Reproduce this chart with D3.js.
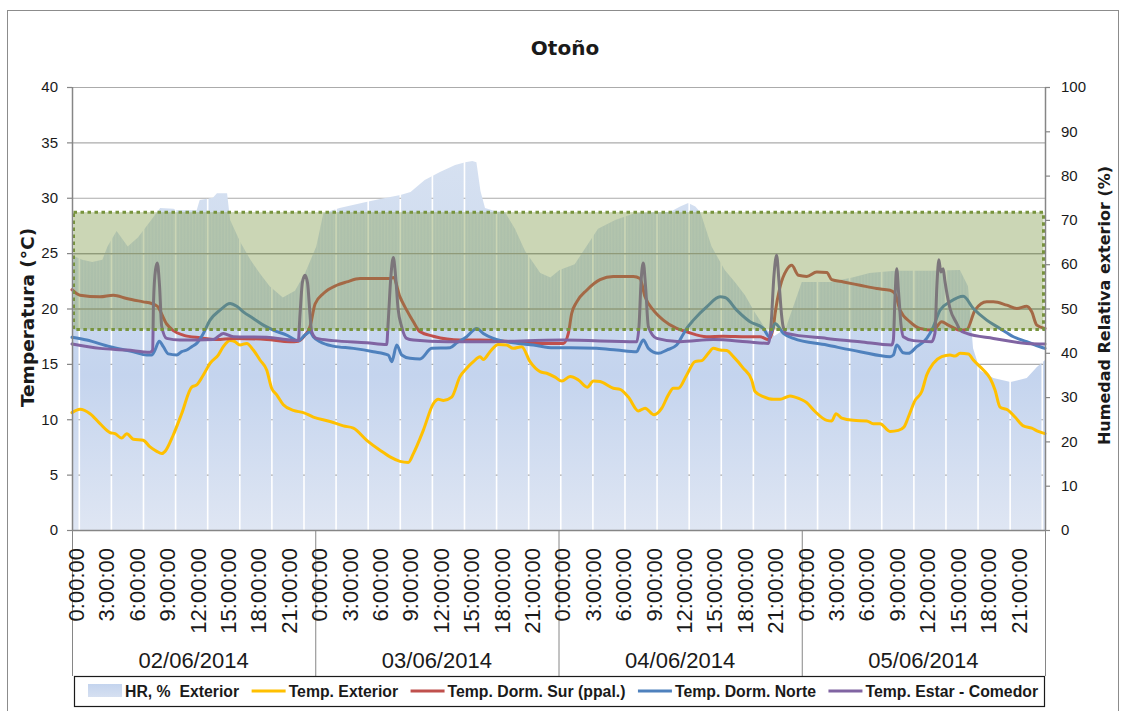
<!DOCTYPE html>
<html>
<head>
<meta charset="utf-8">
<script src="https://cdn.jsdelivr.net/npm/d3@7"></script>
<style>
  body { margin: 0; background: #fff; }
  svg text { font-family: "Liberation Sans", Arial, sans-serif; fill: #1a1a1a; }
  .pre { white-space: pre; }
</style>
</head>
<body>
<svg id="chart" width="1126" height="711"></svg>
<script>
// ---- data ---------------------------------------------------------------
const chartTitle = "Otoño";
const days = ["02/06/2014", "03/06/2014", "04/06/2014", "05/06/2014"];
const hourTicks = [0, 3, 6, 9, 12, 15, 18, 21];
const tempTicks = [0, 5, 10, 15, 20, 25, 30, 35, 40];
const hrTicks = [0, 10, 20, 30, 40, 50, 60, 70, 80, 90, 100];
const comfortBand = [18.1, 28.7];   // °C, comfort zone

// [hours since 02/06 0:00, value]
const hrExterior = [[0,62],[1,61],[2,60.5],[3,61],[3.5,64],[4.4,67.5],[5.5,64],[6.5,66],[7.5,69],[8.7,72.7],[10,72.5],[10.4,72.2],[12.3,72.2],[12.6,74.5],[13.9,75],[14.3,76],[15.3,76],[15.6,70],[16.6,65],[17.6,61],[18.5,58],[19.5,55],[20.8,52.5],[22,54],[23,58],[24.1,64],[24.8,71.5],[26.4,72.7],[28.9,74],[30.4,74.7],[32.4,75.6],[33.4,76.3],[34.8,79],[36.3,80.8],[37.8,82.4],[38.8,83],[39.5,83.3],[39.9,83],[40.3,76.5],[40.75,72.7],[41.7,72],[42.7,71.8],[43.7,68],[44.7,63],[46.2,58],[47.2,57],[48.1,58.7],[49.6,60],[51.9,68],[53.6,70],[55.5,71.5],[57.5,71.7],[59,71.8],[60,73],[60.8,73.8],[61.5,73],[62,71.7],[63.1,64],[64.4,58.7],[65.4,56],[66.4,53],[67.4,49],[68.4,45.5],[69.3,43.8],[70.4,45.5],[71.4,52],[72,56],[74.8,56],[77,57],[78.7,58],[81.2,58.5],[84.7,58.5],[87.6,58.7],[88.4,55],[88.9,41],[89.6,36],[90.9,34.3],[92.6,33.4],[94.2,34.3],[95.2,36.8],[96,38.4]];

const tempExterior = [[0,10.6],[0.79,10.9],[1.78,10.5],[2.76,9.6],[3.75,8.8],[4.24,8.7],[4.9,8.3],[5.4,8.7],[6.05,8.2],[7.03,8.1],[7.7,7.5],[8.36,7.1],[8.85,6.9],[9.18,7.1],[10,8.6],[10.82,10.5],[11.81,12.9],[12.3,13.1],[12.96,14],[13.62,15.05],[14.43,15.8],[14.93,16.55],[15.59,17.1],[16.08,17],[16.58,16.7],[17.24,16.85],[17.89,16.25],[18.55,15.35],[19.21,14.45],[19.7,12.8],[20.2,12.2],[20.85,11.3],[21.84,10.8],[22.82,10.6],[23.81,10.2],[25.46,9.8],[26.77,9.4],[27.76,9.2],[29.08,8.1],[30.39,7.2],[31.38,6.6],[32.36,6.2],[33.18,6.1],[33.68,6.9],[34.66,9],[35.65,11.4],[36.14,11.8],[36.64,11.7],[37.46,12],[38.28,13.85],[38.94,14.6],[39.6,15.2],[40.26,15.65],[40.58,15.4],[41.24,16.1],[42.06,16.75],[42.89,16.7],[43.54,16.4],[44.37,16.55],[45.19,15.2],[46.18,14.3],[46.84,14.15],[47.66,13.8],[48.32,13.45],[49.14,13.85],[49.96,13.55],[50.84,12.9],[51.44,13.45],[52.1,13.4],[53.41,12.8],[54.07,12.7],[54.89,12],[55.88,10.75],[56.54,11],[57.43,10.4],[58.19,11],[58.84,12.2],[59.33,12.8],[59.82,12.8],[60.65,14],[61.47,15.2],[62.13,15.3],[62.78,15.95],[63.28,16.4],[63.94,16.25],[64.6,16.2],[65.25,15.65],[66.24,14.6],[67.06,13.55],[67.39,12.5],[68.21,12.05],[69.2,11.8],[69.86,11.8],[70.84,12.1],[71.34,12],[72.49,11.5],[73.31,10.7],[74.47,9.9],[74.96,9.85],[75.38,10.5],[75.95,10.1],[77.09,9.9],[78.41,9.85],[79.06,9.6],[79.72,9.6],[80.71,8.9],[81.53,9],[82.09,9.3],[82.52,10.2],[83.18,11.7],[83.84,12.5],[84.33,14],[84.98,15.05],[85.81,15.65],[86.63,15.8],[87.12,15.7],[87.62,15.95],[88.44,15.9],[88.93,15.35],[89.92,14.45],[90.58,13.7],[91.07,12.65],[91.56,11.1],[92.38,10.8],[93.04,10.2],[93.86,9.4],[94.69,9.2],[95.34,8.9],[96,8.7]];

const tempDormSur = [[0,21.7],[0.79,21.2],[2.76,21.05],[4.07,21.2],[5.4,20.9],[7.03,20.6],[7.86,20.45],[8.42,20.2],[9.34,18.6],[10,18],[10.98,17.6],[12.63,17.35],[14.28,17.2],[15.92,17.3],[19.21,17.2],[21.51,17],[22.33,17.05],[22.99,17.6],[23.48,18.35],[23.98,20.4],[24.8,21.35],[26.12,22.1],[27.1,22.4],[28.42,22.7],[31.38,22.7],[31.7,22.8],[32.36,21.05],[33.02,19.85],[33.68,18.8],[34.34,17.9],[35.65,17.5],[38.28,17.15],[40.26,17.15],[43.54,17],[45.85,16.85],[48.48,16.85],[48.97,17.75],[49.3,19.55],[49.8,20.6],[50.78,21.65],[52.1,22.6],[53.41,22.9],[55.38,22.9],[56.04,22.7],[56.54,21.05],[57.36,19.85],[58.34,18.95],[59.66,18.2],[60.65,17.9],[62.62,17.45],[64.26,17.5],[66.57,17.45],[67.88,17.45],[68.7,17.2],[69.2,18.3],[69.37,19.55],[69.86,21.95],[70.52,23.5],[71.01,23.9],[71.67,23],[72.49,22.9],[73.48,23.3],[74.47,23.25],[74.96,22.6],[76.11,22.4],[77.75,22.1],[79.4,21.8],[80.71,21.65],[81.2,21.35],[81.7,19.85],[82.68,18.8],[83.67,18.2],[84.98,18.05],[85.81,18.8],[86.46,18.5],[87.62,18.05],[88.28,18.1],[89.1,19.85],[90.25,20.6],[90.91,20.6],[92.23,20.3],[93.22,20],[94.2,20.2],[94.69,19.7],[95.19,18.5],[96,18.2]];

const tempDormNorte = [[0,17.4],[1.45,17.15],[3.75,16.55],[6.05,16.1],[7.37,15.8],[7.86,15.8],[8.19,16.25],[8.61,17.05],[9.01,16.55],[9.5,15.9],[10.33,15.8],[10.82,16.1],[11.32,16.25],[11.81,16.55],[12.3,16.85],[12.96,17.75],[13.62,18.95],[14.6,19.85],[15.59,20.45],[16.25,20.2],[16.9,19.7],[17.89,19.1],[18.88,18.5],[19.86,18.05],[21.18,17.6],[22.33,17.1],[22.99,17.6],[23.48,17.9],[23.81,17.45],[24.47,17],[25.78,16.6],[27.76,16.4],[29.73,16.1],[31.21,15.8],[31.55,15.2],[32.04,16.7],[32.53,15.8],[33.35,15.5],[34.34,15.45],[35.49,16.4],[37.3,16.45],[37.96,16.9],[38.94,17.45],[39.93,18.2],[40.58,17.75],[41.57,17.3],[43.54,16.9],[45.52,16.7],[47.49,16.45],[49.14,16.45],[51.77,16.4],[53.74,16.25],[55.72,16.1],[55.98,16.55],[56.37,17.15],[56.87,16.4],[57.85,15.95],[58.68,16.25],[59.66,16.7],[60.16,17.45],[60.65,18.2],[61.31,18.95],[62.62,20.15],[63.94,21.05],[64.43,21],[65.58,19.85],[66.9,18.8],[68.21,18.2],[68.8,17.45],[69.37,18.65],[70.19,17.75],[71.18,17.3],[74.47,16.7],[77.75,16.1],[80.71,15.65],[81.04,15.8],[81.37,16.7],[82.02,16],[82.52,15.95],[83.35,16.55],[84.33,17.3],[84.98,18.35],[85.64,19.85],[86.63,20.6],[87.94,21.1],[88.93,20],[90.25,18.95],[91.56,18.2],[92.88,17.45],[94.2,17],[95.51,16.55],[96,16.4]];

const tempEstarComedor = [[0,16.8],[2.76,16.4],[5.4,16.25],[7.7,16.05],[7.96,16.25],[8.04,20.5],[8.24,23.5],[8.42,24.1],[8.64,22],[8.85,18.4],[9.34,17.3],[10.66,17.15],[13.94,17.2],[14.93,17.75],[15.92,17.45],[19.21,17.4],[21.51,17.15],[22.33,17.1],[22.5,19.5],[22.74,22.4],[22.99,23],[23.24,22.3],[23.48,19.5],[23.65,17.9],[24.14,17.3],[25.78,17.1],[29.08,16.9],[31.05,16.75],[31.18,18.5],[31.47,23],[31.7,24.6],[31.92,23],[32.17,20],[32.53,18.35],[33.02,17.3],[33.68,17.15],[37,17],[40.26,17],[48.48,17.15],[55.72,17],[55.95,18.5],[56.15,22.5],[56.37,24.1],[56.59,22],[56.87,18.35],[57.69,17.3],[59.98,17],[63.28,17.2],[66.57,17],[68.7,16.85],[68.97,18.5],[69.26,23],[69.52,24.8],[69.75,22.5],[70,19.5],[70.17,18.35],[70.52,17.75],[74.47,17.3],[77.75,17],[80.88,16.7],[81.04,17.15],[81.2,21],[81.37,23.6],[81.55,21.5],[81.8,18.5],[82.02,17.45],[83.01,17.1],[84.81,17],[85.14,17.75],[85.33,22],[85.53,24.4],[85.72,23.3],[85.95,23.6],[86.12,22.5],[86.63,20],[87.29,18.65],[87.62,18.05],[88.28,17.75],[90.91,17.3],[94.2,16.85],[96,16.8]];

const lineSeries = [
  { name: "Temp. Exterior",          color: "#ffc000", values: tempExterior },
  { name: "Temp. Dorm. Sur (ppal.)", color: "#c0504d", values: tempDormSur },
  { name: "Temp. Dorm. Norte",       color: "#4f81bd", values: tempDormNorte },
  { name: "Temp. Estar - Comedor",   color: "#8064a2", values: tempEstarComedor }
];
const hrName = "HR, %  Exterior";

// ---- layout -------------------------------------------------------------
const W = 1126, H = 711;
const plot = { left: 72, right: 1045, top: 87, bottom: 530 };
const svg = d3.select("#chart");
const defs = svg.append("defs");

const x = d3.scaleLinear().domain([0, days.length * 24]).range([plot.left, plot.right]);
const yT = d3.scaleLinear().domain([0, 40]).range([plot.bottom, plot.top]);
const yH = d3.scaleLinear().domain([0, 100]).range([plot.bottom, plot.top]);

// outer frame
svg.append("rect").attr("x", 7.5).attr("y", 10.5).attr("width", 1111).attr("height", 720)
  .attr("fill", "#fff").attr("stroke", "#8c8c8c").attr("stroke-width", 1);

// title
svg.append("text").attr("x", 565).attr("y", 55).attr("text-anchor", "middle")
  .style("font-family", "'DejaVu Sans', sans-serif").style("font-weight", "bold")
  .style("font-size", "20px").text(chartTitle);

// gridlines
const grid = svg.append("g");
grid.selectAll("line").data(tempTicks.filter(d => d > 0)).join("line")
  .attr("x1", plot.left).attr("x2", plot.right)
  .attr("y1", d => yT(d) + 0.5).attr("y2", d => yT(d) + 0.5)
  .attr("stroke", "#ababab").attr("stroke-width", 1.2);

// HR area: gradient fill, column gaps through a mask
const grad = defs.append("linearGradient").attr("id", "hrGrad")
  .attr("gradientUnits", "userSpaceOnUse").attr("x1", 0).attr("x2", 0)
  .attr("y1", plot.top).attr("y2", plot.bottom);
grad.append("stop").attr("offset", 0).attr("stop-color", "#dbe4f2");
grad.append("stop").attr("offset", 0.3).attr("stop-color", "#d2def0");
grad.append("stop").attr("offset", 0.65).attr("stop-color", "#c4d4ee");
grad.append("stop").attr("offset", 1).attr("stop-color", "#dfe6f3");

const gapStartHour = 0.72, gapEveryHours = 3.167;
const mask = defs.append("mask").attr("id", "hrGaps").attr("maskUnits", "userSpaceOnUse")
  .attr("x", 0).attr("y", 0).attr("width", W).attr("height", H);
mask.append("rect").attr("width", W).attr("height", H).attr("fill", "#fff");
mask.selectAll("line").data(d3.range(gapStartHour, days.length * 24, gapEveryHours)).join("line")
  .attr("x1", d => x(d)).attr("x2", d => x(d)).attr("y1", 0).attr("y2", H)
  .attr("stroke", "#000").attr("stroke-width", 1.6);

const hrArea = d3.area().x(d => x(d[0])).y0(plot.bottom).y1(d => yH(d[1]));
svg.append("path").attr("d", hrArea(hrExterior)).attr("fill", "url(#hrGrad)")
  .attr("mask", "url(#hrGaps)");

// comfort band clip, fine column texture and gridlines inside it
const bandTop = yT(comfortBand[1]), bandBottom = yT(comfortBand[0]);
defs.append("clipPath").attr("id", "bandClip").append("rect")
  .attr("x", plot.left).attr("y", bandTop).attr("width", plot.right - plot.left)
  .attr("height", bandBottom - bandTop);
const pat = defs.append("pattern").attr("id", "cols").attr("patternUnits", "userSpaceOnUse")
  .attr("width", 3.2).attr("height", 10);
pat.append("rect").attr("width", 1.1).attr("height", 10).attr("fill", "#ffffff").attr("opacity", 0.22);
svg.append("path").attr("d", hrArea(hrExterior)).attr("fill", "url(#cols)")
  .attr("clip-path", "url(#bandClip)");
svg.append("g").attr("clip-path", "url(#bandClip)")
  .selectAll("line").data(tempTicks.filter(d => d > 0)).join("line")
  .attr("x1", plot.left).attr("x2", plot.right)
  .attr("y1", d => yT(d) + 0.5).attr("y2", d => yT(d) + 0.5)
  .attr("stroke", "#a0a0a0").attr("stroke-width", 1.4);

// temperature lines
const line = d3.line().x(d => x(d[0])).y(d => yT(d[1])).curve(d3.curveMonotoneX);
svg.append("g").selectAll("path").data(lineSeries).join("path")
  .attr("d", d => line(d.values)).attr("fill", "none")
  .attr("stroke", d => d.color).attr("stroke-width", 3)
  .attr("stroke-linejoin", "round").attr("stroke-linecap", "round");

// comfort band overlay
svg.append("rect").attr("x", plot.left + 1.5).attr("y", bandTop)
  .attr("width", plot.right - plot.left - 3).attr("height", bandBottom - bandTop)
  .attr("fill", "#76923c").attr("fill-opacity", 0.38)
  .attr("stroke", "#77933c").attr("stroke-width", 3).attr("stroke-dasharray", "3.5,3.5");

// axes lines
const axisColor = "#868686";
svg.append("line").attr("x1", plot.left + 0.5).attr("x2", plot.left + 0.5)
  .attr("y1", plot.top).attr("y2", plot.bottom).attr("stroke", axisColor).attr("stroke-width", 1.5);
svg.append("line").attr("x1", plot.right + 0.5).attr("x2", plot.right + 0.5)
  .attr("y1", plot.top).attr("y2", plot.bottom).attr("stroke", axisColor).attr("stroke-width", 1.5);
svg.append("line").attr("x1", plot.left).attr("x2", plot.right)
  .attr("y1", plot.bottom + 0.5).attr("y2", plot.bottom + 0.5).attr("stroke", axisColor).attr("stroke-width", 1.5);

// left axis
const yAxisL = svg.append("g");
yAxisL.selectAll("line").data(tempTicks).join("line")
  .attr("x1", plot.left - 5).attr("x2", plot.left).attr("y1", d => yT(d) + 0.5).attr("y2", d => yT(d) + 0.5)
  .attr("stroke", axisColor).attr("stroke-width", 1.2);
yAxisL.selectAll("text").data(tempTicks).join("text")
  .attr("x", plot.left - 14).attr("y", d => yT(d)).attr("dy", "0.35em")
  .attr("text-anchor", "end").style("font-size", "15px").text(d => d);

// right axis
const yAxisR = svg.append("g");
yAxisR.selectAll("line").data(hrTicks).join("line")
  .attr("x1", plot.right).attr("x2", plot.right + 5).attr("y1", d => yH(d) + 0.5).attr("y2", d => yH(d) + 0.5)
  .attr("stroke", axisColor).attr("stroke-width", 1.2);
yAxisR.selectAll("text").data(hrTicks).join("text")
  .attr("x", plot.right + 16).attr("y", d => yH(d)).attr("dy", "0.35em")
  .attr("text-anchor", "start").style("font-size", "15px").text(d => d);

// axis titles
svg.append("text").attr("transform", "translate(34," + ((plot.top + plot.bottom) / 2 + 9) + ") rotate(-90)")
  .attr("text-anchor", "middle")
  .style("font-family", "'DejaVu Sans', sans-serif").style("font-weight", "bold").style("font-size", "18.5px")
  .text("Temperatura (°C)");
svg.append("text").attr("transform", "translate(1110," + ((plot.top + plot.bottom) / 2 - 3) + ") rotate(-90)")
  .attr("text-anchor", "middle")
  .style("font-family", "'DejaVu Sans', sans-serif").style("font-weight", "bold").style("font-size", "16px")
  .text("Humedad Relativa exterior (%)");

// category axis: hour labels, day dividers, day labels
const dividerBottom = 676;
svg.append("g").selectAll("line").data(d3.range(days.length + 1)).join("line")
  .attr("x1", d => x(d * 24) + 0.5).attr("x2", d => x(d * 24) + 0.5)
  .attr("y1", plot.bottom).attr("y2", dividerBottom)
  .attr("stroke", axisColor).attr("stroke-width", 1);

const hourLabels = [];
days.forEach((d, i) => hourTicks.forEach(h => hourLabels.push({ t: i * 24 + h, label: h + ":00:00" })));
svg.append("g").selectAll("text").data(hourLabels).join("text")
  .attr("transform", d => "translate(" + (x(d.t) + 4) + ",548) rotate(-90)")
  .attr("dy", "0.36em").attr("text-anchor", "end")
  .style("font-size", "22px").text(d => d.label);

svg.append("g").selectAll("text").data(days).join("text")
  .attr("x", (d, i) => x(i * 24 + 12)).attr("y", 668).attr("text-anchor", "middle")
  .style("font-size", "22px").text(d => d);

// legend
const leg = svg.append("g");
leg.append("rect").attr("x", 74.5).attr("y", 676.5).attr("width", 970).attr("height", 30)
  .attr("fill", "#fff").attr("stroke", "#1a1a1a").attr("stroke-width", 1.2);
const legGrad = defs.append("linearGradient").attr("id", "legGrad").attr("x1", 0).attr("x2", 0).attr("y1", 0).attr("y2", 1);
legGrad.append("stop").attr("offset", 0).attr("stop-color", "#c4d4ee");
legGrad.append("stop").attr("offset", 1).attr("stop-color", "#d6e0f1");
const legendItems = [{ name: hrName, area: true }].concat(lineSeries);
let lx = 88;
const ly = 691;
legendItems.forEach(item => {
  if (item.area) {
    leg.append("rect").attr("x", lx).attr("y", ly - 7).attr("width", 34).attr("height", 13).attr("fill", "url(#legGrad)");
  } else {
    leg.append("line").attr("x1", lx).attr("x2", lx + 34).attr("y1", ly).attr("y2", ly)
      .attr("stroke", item.color).attr("stroke-width", 3);
  }
  const t = leg.append("text").attr("class", "pre").attr("x", lx + 37).attr("y", ly).attr("dy", "0.36em")
    .style("font-size", "15.8px").style("font-weight", "bold").text(item.name);
  lx += 37 + t.node().getComputedTextLength() + 12.5;
});
</script>
</body>
</html>
